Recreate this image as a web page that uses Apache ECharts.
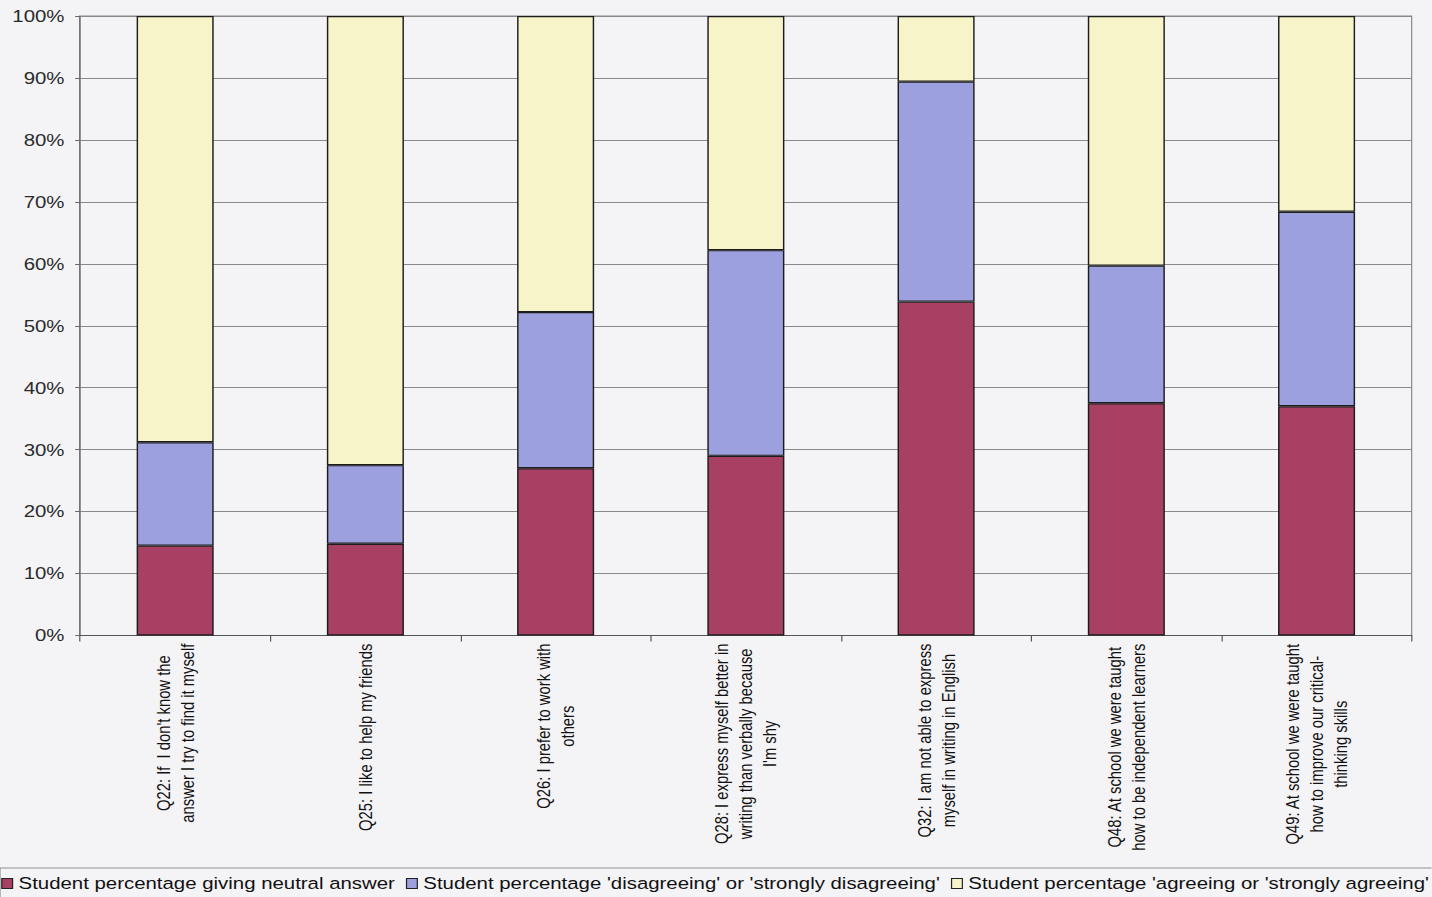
<!DOCTYPE html>
<html>
<head>
<meta charset="utf-8">
<script src="https://cdn.jsdelivr.net/npm/echarts@6/dist/echarts.min.js"></script>
<style>
  html, body { margin: 0; padding: 0; overflow: hidden; background: #f4f3f6; }
  /* The chart is laid out in a narrower frame and widened horizontally,
     giving the stretched lettering of the printed figure. */
  #chart {
    width: 1193.33px;
    height: 897px;
    transform: scaleX(1.2);
    transform-origin: 0 0;
  }
</style>
</head>
<body>
<div id="chart"></div>
<script>
// Survey statements (line breaks mark the wrapped label lines)
const categories = [
  "Q22: If  I don't know the\nanswer I try to find it myself",
  "Q25: I like to help my friends",
  "Q26: I prefer to work with\nothers",
  "Q28: I express myself better in\nwriting than verbally because\nI'm shy",
  "Q32: I am not able to express\nmyself in writing in English",
  "Q48: At school we were taught\nhow to be independent learners",
  "Q49: At school we were taught\nhow to improve our critical-\nthinking skills"
];

// Share of students (%) per answer group
const neutralPct  = [14.5, 14.8, 27.0, 29.0, 53.9, 37.5, 37.0];
const disagreePct = [16.7, 12.7, 25.2, 33.2, 35.5, 22.2, 31.4];
const agreePct    = [68.8, 72.5, 47.8, 37.8, 10.6, 40.3, 31.6];

const seriesNames = [
  "Student percentage giving neutral answer",
  "Student percentage 'disagreeing' or 'strongly disagreeing'",
  "Student percentage 'agreeing or 'strongly agreeing'"
];

const yTicks = { min: 0, max: 100, interval: 10 };

const colors = ['#a84064', '#9ca0de', '#f6f4c8'];
const font = '"Liberation Sans", Arial, sans-serif';

const chart = echarts.init(document.getElementById('chart'), null, { renderer: 'svg' });

function barSeries(name, data, color) {
  return {
    name: name,
    type: 'bar',
    stack: 'total',
    barWidth: '40.5%',
    data: data,
    itemStyle: { color: color, borderColor: '#1c1c1c', borderWidth: 1.2 },
    emphasis: { disabled: true }
  };
}

chart.setOption({
  backgroundColor: '#f4f3f6',
  animation: false,
  textStyle: { fontFamily: font },
  grid: {
    left: 66.7,
    right: 16.6,
    top: 16,
    bottom: 261.5,
    show: true,
    borderColor: '#8a8a8a',
    borderWidth: 1,
    backgroundColor: 'transparent'
  },
  legend: {
    left: 0,
    top: 868,
    width: 1250,
    padding: [7, 6, 6, 1],
    borderColor: '#8f8f8f',
    borderWidth: 1,
    itemGap: 9,
    itemWidth: 9,
    itemHeight: 10,
    icon: 'rect',
    itemStyle: { borderColor: '#222', borderWidth: 1 },
    textStyle: { fontFamily: font, fontSize: 17, color: '#111' },
    data: seriesNames
  },
  xAxis: {
    type: 'category',
    data: categories,
    axisLine: { lineStyle: { color: '#555', width: 1 } },
    axisTick: { show: true, length: 6, lineStyle: { color: '#555' } },
    axisLabel: {
      interval: 0,
      rotate: 90,
      margin: 8,
      color: '#111',
      fontFamily: font,
      fontSize: 14.8,
      lineHeight: 20,
      formatter: function (value) {
        return value.split('\n').map(function (l) { return '{c|' + l + '}'; }).join('\n');
      },
      rich: {
        c: { align: 'center', fontFamily: font, fontSize: 14.8, lineHeight: 20, color: '#111' }
      }
    },
    splitLine: { show: false }
  },
  yAxis: {
    type: 'value',
    min: yTicks.min,
    max: yTicks.max,
    interval: yTicks.interval,
    axisLine: { show: true, lineStyle: { color: '#666', width: 1 } },
    axisTick: { show: true, length: 4, lineStyle: { color: '#666' } },
    axisLabel: {
      formatter: '{value}%',
      margin: 13,
      color: '#2a2a2a',
      fontFamily: font,
      fontSize: 17
    },
    splitLine: { show: true, lineStyle: { color: '#8a8a8a', width: 1 } }
  },
  series: [
    barSeries(seriesNames[0], neutralPct, colors[0]),
    barSeries(seriesNames[1], disagreePct, colors[1]),
    barSeries(seriesNames[2], agreePct, colors[2])
  ]
});
</script>
</body>
</html>
